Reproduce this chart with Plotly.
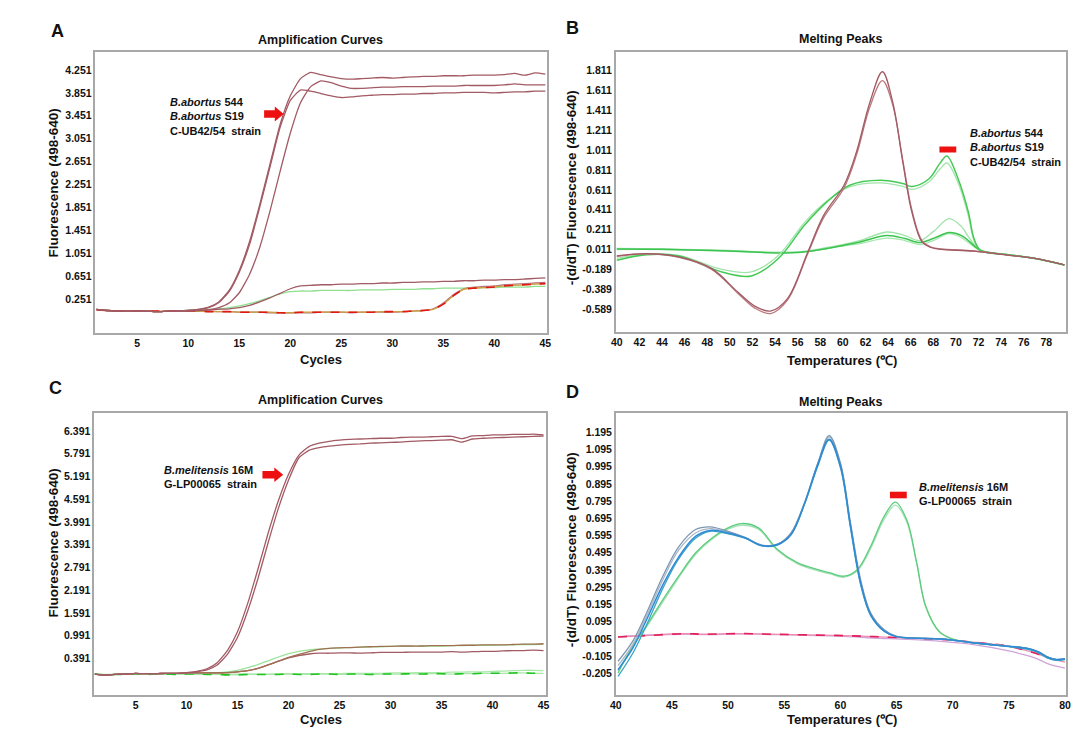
import plotly.graph_objects as go

# The page body has an 8 px margin, so the figure is 8 px smaller and all
# reference pixel positions are shifted by that offset.
W_REF, H_REF = 1082, 732
OFF = 8
W, H = W_REF - OFF, H_REF - OFF
FONT = "Liberation Sans, Arial, Helvetica, sans-serif"

# ---------------- data ----------------
CYCLES = list(range(1, 46))

# Panel A - amplification curves
A_POS_1 = [0.07,0.05,0.04,0.04,0.04,0.04,0.03,0.04,0.04,0.05,
           0.07,0.11,0.20,0.40,0.75,1.25,1.90,2.60,3.30,3.80,
           4.10,4.21,4.17,4.13,4.10,4.09,4.10,4.11,4.12,4.11,
           4.12,4.13,4.14,4.14,4.15,4.15,4.15,4.16,4.16,4.16,
           4.17,4.19,4.16,4.20,4.18]
A_POS_2 = [0.07,0.05,0.04,0.04,0.04,0.04,0.03,0.04,0.04,0.05,
           0.07,0.10,0.19,0.38,0.72,1.20,1.85,2.55,3.25,3.72,
           3.90,3.88,3.84,3.80,3.77,3.78,3.80,3.81,3.82,3.82,
           3.83,3.83,3.84,3.84,3.85,3.85,3.86,3.86,3.86,3.85,
           3.86,3.87,3.87,3.88,3.88]
A_POS_3 = [0.07,0.05,0.04,0.04,0.04,0.04,0.03,0.04,0.04,0.04,
           0.05,0.06,0.10,0.18,0.36,0.68,1.15,1.78,2.48,3.15,
           3.68,3.96,4.06,4.03,3.97,3.93,3.93,3.94,3.95,3.95,
           3.96,3.96,3.96,3.97,3.97,3.97,3.98,3.98,3.98,3.98,
           3.99,4.01,3.99,3.99,3.99]
A_LOW_BROWN = [0.07,0.05,0.04,0.04,0.04,0.04,0.03,0.04,0.04,0.05,
               0.05,0.06,0.07,0.08,0.10,0.14,0.20,0.27,0.35,0.43,
               0.48,0.49,0.50,0.50,0.51,0.51,0.52,0.52,0.53,0.53,
               0.54,0.54,0.55,0.55,0.56,0.56,0.57,0.57,0.58,0.58,
               0.59,0.59,0.60,0.61,0.62]
A_LOW_GREEN = [0.07,0.05,0.04,0.04,0.04,0.04,0.03,0.04,0.04,0.05,
               0.06,0.07,0.08,0.10,0.13,0.17,0.22,0.28,0.34,0.38,
               0.39,0.39,0.40,0.40,0.40,0.40,0.41,0.41,0.41,0.42,
               0.42,0.42,0.43,0.43,0.44,0.44,0.44,0.45,0.45,0.45,
               0.46,0.46,0.46,0.47,0.47]
A_LATE_1 = [0.07,0.05,0.04,0.04,0.04,0.04,0.03,0.04,0.04,0.04,
            0.04,0.04,0.03,0.03,0.02,0.02,0.02,0.01,0.01,0.01,
            0.01,0.01,0.02,0.02,0.02,0.01,0.02,0.02,0.02,0.02,
            0.03,0.04,0.05,0.08,0.18,0.33,0.43,0.46,0.47,0.48,
            0.50,0.51,0.52,0.53,0.54]
A_LATE_2 = [0.06,0.05,0.04,0.04,0.04,0.04,0.04,0.04,0.04,0.04,
            0.04,0.03,0.03,0.03,0.02,0.02,0.02,0.02,0.01,0.01,
            0.02,0.02,0.02,0.02,0.02,0.02,0.02,0.02,0.03,0.03,
            0.03,0.04,0.05,0.07,0.16,0.31,0.42,0.44,0.45,0.46,
            0.48,0.49,0.50,0.51,0.52]

# Panel C - amplification curves
C_POS_1 = [-0.02,-0.05,-0.03,-0.02,0.00,-0.01,-0.01,0.00,0.00,0.02,
           0.05,0.12,0.28,0.60,1.10,1.85,2.75,3.70,4.55,5.25,
           5.75,5.98,6.07,6.12,6.15,6.17,6.18,6.19,6.20,6.20,
           6.22,6.23,6.23,6.24,6.25,6.25,6.19,6.26,6.27,6.29,
           6.29,6.30,6.30,6.31,6.29]
C_POS_2 = [-0.02,-0.05,-0.03,-0.02,0.00,-0.01,-0.01,0.00,0.00,0.01,
           0.04,0.09,0.22,0.50,0.95,1.65,2.50,3.45,4.35,5.10,
           5.68,5.88,5.95,5.99,6.02,6.04,6.05,6.07,6.08,6.09,
           6.10,6.12,6.13,6.14,6.15,6.16,6.10,6.18,6.20,6.21,
           6.22,6.23,6.24,6.25,6.26]
C_LOW_GREEN = [-0.02,-0.04,-0.03,-0.02,-0.01,-0.01,-0.01,0.00,0.00,0.00,
               0.00,0.01,0.02,0.04,0.08,0.15,0.23,0.33,0.43,0.52,
               0.58,0.62,0.64,0.66,0.67,0.68,0.69,0.70,0.70,0.71,
               0.71,0.71,0.72,0.72,0.72,0.73,0.73,0.74,0.74,0.74,
               0.75,0.75,0.76,0.76,0.77]
C_LOW_BROWN_1 = [-0.02,-0.05,-0.03,-0.02,0.00,-0.01,-0.01,0.00,0.00,0.01,
                 0.01,0.01,0.01,0.02,0.04,0.07,0.13,0.22,0.32,0.42,
                 0.50,0.57,0.63,0.66,0.67,0.68,0.69,0.70,0.71,0.71,
                 0.72,0.72,0.72,0.73,0.73,0.73,0.74,0.74,0.75,0.75,
                 0.75,0.76,0.77,0.77,0.78]
C_LOW_BROWN_2 = [-0.02,-0.05,-0.03,-0.02,0.00,-0.01,-0.01,0.00,0.00,0.01,
                 0.01,0.01,0.01,0.02,0.04,0.07,0.13,0.22,0.32,0.41,
                 0.47,0.51,0.53,0.53,0.54,0.54,0.53,0.54,0.55,0.55,
                 0.55,0.56,0.56,0.56,0.56,0.57,0.56,0.57,0.58,0.58,
                 0.59,0.60,0.60,0.61,0.60]
C_NEG_1 = [-0.02,-0.04,-0.03,-0.03,-0.02,-0.03,-0.02,-0.02,-0.03,-0.02,
           -0.02,-0.03,-0.03,-0.04,-0.04,-0.03,-0.03,-0.03,-0.03,-0.02,
           -0.03,-0.03,-0.02,-0.02,-0.03,-0.02,-0.02,-0.03,-0.02,-0.02,
           -0.02,-0.01,-0.02,-0.01,-0.01,-0.02,-0.01,-0.01,0.00,0.00,
           0.00,0.01,0.01,0.00,0.00]
C_NEG_2 = [-0.02,-0.03,-0.03,-0.02,-0.02,-0.02,-0.02,-0.02,-0.02,-0.02,
           -0.02,-0.02,-0.02,-0.02,-0.02,-0.02,-0.02,-0.02,-0.01,-0.01,
           -0.01,-0.01,-0.01,-0.01,-0.01,0.00,0.00,0.00,0.00,0.01,
           0.01,0.01,0.02,0.02,0.02,0.03,0.03,0.04,0.04,0.05,
           0.06,0.07,0.08,0.08,0.07]

# Panel B - melting peaks
B_T_M = [40.0, 42.6, 45.5, 48.4, 50.7, 52.2, 53.6, 55.1, 56.9, 58.3, 60.1, 61.2,
         62.4, 63.5, 64.4, 65.3, 66.1, 67.0, 67.8, 68.7, 71.6, 74.6, 77.0, 79.6]
B_M1 = [-0.055, -0.032, -0.065, -0.183, -0.418, -0.56, -0.61, -0.485, -0.015, 0.354, 0.657, 0.992,
        1.496, 1.80, 1.50, 0.891, 0.388, 0.086, 0.03, 0.012, -0.007, -0.047, -0.08, -0.146]
B_M2 = [-0.06, -0.035, -0.07, -0.19, -0.43, -0.58, -0.635, -0.50, -0.03, 0.33, 0.63, 0.96,
        1.45, 1.71, 1.47, 0.91, 0.41, 0.10, 0.035, 0.015, -0.005, -0.047, -0.08, -0.146]
B_T_G1 = [40.0, 42.6, 45.5, 49.3, 51.9, 54.3, 56.6, 58.6, 60.6, 63.3, 65.3, 66.1,
          67.6, 68.6, 69.2, 70.2, 71.1, 71.6, 72.2, 74.6, 77.0, 79.6]
B_G1 = [-0.098, -0.042, -0.055, -0.216, -0.256, -0.08, 0.254, 0.49, 0.657, 0.707, 0.674, 0.645,
        0.72, 0.88, 0.952, 0.72, 0.388, 0.12, 0.0, -0.042, -0.08, -0.146]
B_G1B = [-0.08, -0.035, -0.05, -0.19, -0.216, -0.05, 0.28, 0.50, 0.64, 0.68, 0.645, 0.615,
         0.69, 0.82, 0.881, 0.68, 0.35, 0.10, 0.0, -0.042, -0.08, -0.146]
B_T_G2 = [40.0, 44.0, 48.4, 51.0, 54.3, 56.5, 58.6, 60.0, 61.5, 63.9, 65.5, 66.8,
          68.0, 69.4, 70.5, 71.1, 72.2, 74.6, 77.0, 79.6]
B_G2A = [0.02, 0.015, 0.005, -0.005, -0.02, -0.01, 0.03, 0.06, 0.10, 0.186, 0.15, 0.10,
         0.19, 0.32, 0.24, 0.14, 0.0, -0.042, -0.08, -0.146]
B_G2B = [0.015, 0.012, 0.0, -0.01, -0.025, -0.015, 0.02, 0.05, 0.085, 0.15, 0.12, 0.08,
         0.12, 0.18, 0.15, 0.10, 0.0, -0.042, -0.08, -0.146]
B_G2C = [0.01, 0.01, 0.0, -0.01, -0.02, -0.015, 0.02, 0.045, 0.07, 0.125, 0.10, 0.06,
         0.10, 0.17, 0.13, 0.08, 0.0, -0.042, -0.08, -0.146]

# Panel D - melting peaks
D_T_B = [40.2, 41.5, 42.7, 44.2, 45.6, 47.1, 48.4, 50.0, 51.5, 53.0, 54.4, 55.6, 56.8, 58.0,
         59.0, 60.0, 60.9, 61.8, 62.7, 63.9, 65.0, 69.1, 72.0, 75.0, 76.6, 77.6, 78.4, 79.2, 80.0]
D_B1 = [-0.135, -0.02, 0.14, 0.36, 0.53, 0.63, 0.646, 0.62, 0.585, 0.54, 0.545, 0.61, 0.785, 1.018,
        1.176, 1.018, 0.669, 0.339, 0.145, 0.048, 0.009, -0.006, -0.029, -0.048, -0.06, -0.08, -0.11, -0.125, -0.12]
D_B2 = [-0.184, -0.06, 0.10, 0.31, 0.47, 0.59, 0.625, 0.61, 0.582, 0.537, 0.543, 0.60, 0.78, 1.01,
        1.155, 1.00, 0.65, 0.32, 0.135, 0.04, 0.008, -0.006, -0.029, -0.048, -0.06, -0.08, -0.11, -0.125, -0.12]
D_B3 = [-0.223, -0.09, 0.07, 0.29, 0.46, 0.58, 0.62, 0.605, 0.58, 0.535, 0.54, 0.60, 0.775, 1.0,
        1.15, 0.99, 0.64, 0.31, 0.13, 0.04, 0.008, -0.006, -0.03, -0.05, -0.065, -0.085, -0.115, -0.13, -0.125]
D_B4 = [-0.16, -0.04, 0.12, 0.34, 0.51, 0.61, 0.635, 0.615, 0.583, 0.538, 0.544, 0.605, 0.78, 1.012,
        1.168, 1.01, 0.66, 0.33, 0.14, 0.045, 0.009, -0.006, -0.029, -0.048, -0.06, -0.08, -0.11, -0.125, -0.12]
D_T_G = [40.2, 41.5, 42.7, 44.2, 45.6, 47.1, 48.6, 50.0, 51.2, 52.7, 54.4, 56.2, 58.0, 59.1, 60.3, 61.5,
         62.7, 63.9, 64.9, 65.9, 66.8, 67.6, 68.8, 70.0, 72.0, 75.0, 76.6, 77.6, 78.4, 79.2, 80.0]
D_G1 = [-0.203, -0.048, 0.068, 0.223, 0.359, 0.494, 0.582, 0.64, 0.665, 0.64, 0.514, 0.436, 0.397, 0.378, 0.359, 0.397,
        0.533, 0.707, 0.789, 0.688, 0.436, 0.184, 0.038, -0.006, -0.029, -0.048, -0.06, -0.08, -0.11, -0.125, -0.12]
D_G2 = [-0.19, -0.05, 0.06, 0.21, 0.35, 0.485, 0.575, 0.632, 0.655, 0.632, 0.508, 0.43, 0.39, 0.372, 0.353, 0.39,
        0.52, 0.69, 0.772, 0.675, 0.43, 0.18, 0.036, -0.006, -0.029, -0.048, -0.06, -0.08, -0.11, -0.125, -0.12]
D_T_P = [40.2, 43, 46, 48, 51.1, 54, 57, 60.3, 63, 66, 69, 72, 75, 77.3, 78.5, 80]
D_P1 = [0.006, 0.015, 0.025, 0.022, 0.026, 0.022, 0.018, 0.014, 0.008, 0.0, -0.008, -0.025, -0.048, -0.087, -0.115, -0.14]
D_P2 = [0.008, 0.018, 0.022, 0.02, 0.024, 0.02, 0.015, 0.01, 0.0, -0.008, -0.02, -0.04, -0.075, -0.115, -0.15, -0.175]

# tick labels
A_YTICKS = [0.251, 0.651, 1.051, 1.451, 1.851, 2.251, 2.651, 3.051, 3.451, 3.851, 4.251]
C_YTICKS = [0.391, 0.991, 1.591, 2.191, 2.791, 3.391, 3.991, 4.591, 5.191, 5.791, 6.391]
B_YTICKS = [-0.589, -0.389, -0.189, 0.011, 0.211, 0.411, 0.611, 0.811, 1.011, 1.211, 1.411, 1.611, 1.811]
D_YTICKS = [-0.205, -0.105, -0.005, 0.095, 0.195, 0.295, 0.395, 0.495, 0.595, 0.695, 0.795, 0.895, 0.995, 1.095, 1.195]
D_YTEXT = ["-0.205", "-0.105", "0.005", "0.095", "0.195", "0.295", "0.395", "0.495", "0.595", "0.695",
           "0.795", "0.895", "0.995", "1.095", "1.195"]
CYCLE_TICKS = [5, 10, 15, 20, 25, 30, 35, 40, 45]
B_XTICKS = list(range(40, 80, 2))
D_XTICKS = [40, 45, 50, 55, 60, 65, 70, 75, 80]

# ---------------- figure ----------------
fig = go.Figure()

MAROON = "#a25a64"
MAROON2 = "#b8787f"


def add(xs, ys, color, ax, width=1.3, dash=None, smoothing=1.0):
    sfx = "" if ax == 1 else str(ax)
    fig.add_trace(go.Scatter(
        x=xs, y=ys, mode="lines",
        line=dict(color=color, width=width, dash=dash, shape="spline", smoothing=smoothing),
        xaxis="x" + sfx, yaxis="y" + sfx, hoverinfo="skip", showlegend=False))


# Panel A
add(CYCLES, A_LOW_GREEN, "#8fe08f", 1, smoothing=0.5)
add(CYCLES, A_LOW_BROWN, MAROON, 1, smoothing=0.5)
add(CYCLES, A_LATE_1, MAROON2, 1, smoothing=0.5)
add(CYCLES, A_LATE_2, "#c8a040", 1, smoothing=0.5)
add(CYCLES, A_LATE_2, "#e01818", 1, width=1.6, dash="dash", smoothing=0.5)
add(CYCLES, A_POS_1, MAROON, 1, smoothing=0.5)
add(CYCLES, A_POS_2, MAROON, 1, smoothing=0.5)
add(CYCLES, A_POS_3, MAROON, 1, smoothing=0.5)

# Panel B
add(B_T_G2, B_G2C, "#a6e6b0", 2)
add(B_T_G2, B_G2A, "#9fe3a8", 2)
add(B_T_G2, B_G2B, "#3cc450", 2, width=1.5)
add(B_T_G1, B_G1B, "#a3e4ad", 2)
add(B_T_G1, B_G1, "#45c955", 2, width=1.5)
add(B_T_M, B_M2, MAROON2, 2)
add(B_T_M, B_M1, MAROON, 2)

# Panel C
add(CYCLES, C_NEG_2, "#a8e8a8", 3, smoothing=0.5)
add(CYCLES, C_NEG_1, "#a8e8a8", 3, smoothing=0.5)
add(CYCLES, C_NEG_1, "#22c422", 3, width=1.6, dash="dash", smoothing=0.5)
add(CYCLES, C_LOW_GREEN, "#9be39b", 3, smoothing=0.5)
add(CYCLES, C_LOW_BROWN_2, MAROON, 3, smoothing=0.5)
add(CYCLES, C_LOW_BROWN_1, "#a07050", 3, smoothing=0.5)
add(CYCLES, C_POS_1, MAROON, 3, smoothing=0.5)
add(CYCLES, C_POS_2, MAROON, 3, smoothing=0.5)

# Panel D
add(D_T_P, D_P2, "#cfa4d8", 4)
add(D_T_P, D_P1, "#f08cb4", 4)
add(D_T_P, D_P1, "#e0205a", 4, width=1.6, dash="dash")
add(D_T_G, D_G2, "#a6e2bc", 4)
add(D_T_G, D_G1, "#5ccc7a", 4)
add(D_T_B, D_B4, "#a8b8c8", 4)
add(D_T_B, D_B1, "#7f96b0", 4)
add(D_T_B, D_B3, "#3aa6c4", 4)
add(D_T_B, D_B2, "#2f8ad6", 4, width=1.5)


# ---------------- layout ----------------
def fx(p):
    return (p - OFF) / W


def fy(p):
    return 1 - (p - OFF) / H


TICKFONT = dict(family=FONT, size=10.5, color="#111111", weight="bold")
common = dict(showgrid=False, zeroline=False, showline=True, mirror=True,
              linecolor="#a8a8a8", linewidth=1.5, ticks="", tickfont=TICKFONT,
              fixedrange=True)

PA = dict(x=(90.3, 546.6), y=(52, 333))
PB = dict(x=(616, 1071), y=(52, 332))
PC = dict(x=(89, 545.5), y=(413, 695))
PD = dict(x=(616, 1071), y=(413, 695))


def dom(p):
    return [fx(p["x"][0]), fx(p["x"][1])], [fy(p["y"][1]), fy(p["y"][0])]


da, ra = dom(PA)
db, rb = dom(PB)
dc, rc = dom(PC)
dd, rd = dom(PD)

fig.update_layout(
    width=W, height=H, margin=dict(l=0, r=0, t=0, b=0),
    paper_bgcolor="white", plot_bgcolor="white", showlegend=False,
    font=dict(family=FONT, color="#111111"),
    xaxis=dict(domain=da, range=[0.9, 45.17], tickvals=CYCLE_TICKS, anchor="y", **common),
    yaxis=dict(domain=ra, range=[-0.343, 4.565], tickvals=A_YTICKS,
               ticktext=[f"{v:.3f}" for v in A_YTICKS], anchor="x", **common),
    xaxis2=dict(domain=db, range=[39.91, 79.75], tickvals=B_XTICKS, anchor="y2", **common),
    yaxis2=dict(domain=rb, range=[-0.821, 1.999], tickvals=B_YTICKS,
                ticktext=[f"{v:.3f}" for v in B_YTICKS], anchor="x2", **common),
    xaxis3=dict(domain=dc, range=[0.94, 45.24], tickvals=CYCLE_TICKS, anchor="y3", **common),
    yaxis3=dict(domain=rc, range=[-0.572, 6.866], tickvals=C_YTICKS,
                ticktext=[f"{v:.3f}" for v in C_YTICKS], anchor="x3", **common),
    xaxis4=dict(domain=dd, range=[40.0, 80.1], tickvals=D_XTICKS, anchor="y4", **common),
    yaxis4=dict(domain=rd, range=[-0.331, 1.307], tickvals=D_YTICKS, ticktext=D_YTEXT,
                anchor="x4", **common),
)

ann = []


def text(x, y, s, size, angle=0, xanchor="center", align="center"):
    ann.append(dict(x=fx(x), y=fy(y), xref="paper", yref="paper", text=s, showarrow=False,
                    xanchor=xanchor, yanchor="middle", align=align, textangle=angle,
                    font=dict(family=FONT, size=size, color="#111111")))


# panel letters
text(52, 31, "<b>A</b>", 18)
text(572, 28, "<b>B</b>", 18)
text(50, 388, "<b>C</b>", 18)
text(572, 392, "<b>D</b>", 18)
# titles
text(318, 40, "<b>Amplification Curves</b>", 12.5)
text(843, 39, "<b>Melting Peaks</b>", 12.5)
text(318, 400, "<b>Amplification Curves</b>", 12.5)
text(843, 402, "<b>Melting Peaks</b>", 12.5)
# axis titles
text(318, 359, "<b>Cycles</b>", 13)
text(318, 719, "<b>Cycles</b>", 13)
text(845, 361, "<b>Temperatures (℃)</b>", 13)
text(845, 719, "<b>Temperatures (℃)</b>", 13)
text(48, 183, "<b>Fluorescence (498-640)</b>", 13.5, angle=-90)
text(47, 543, "<b>Fluorescence (498-640)</b>", 13.5, angle=-90)
text(571, 188, "<b>-(d/dT) Fluorescence (498-640)</b>", 13.5, angle=-90)
text(571, 550, "<b>-(d/dT) Fluorescence (498-640)</b>", 13.5, angle=-90)
# strain labels
ABORTUS = "<b><i>B.abortus</i> 544</b><br><b><i>B.abortus</i> S19</b><br><b>C-UB42/54  strain</b>"
MELI = "<b><i>B.melitensis</i> 16M</b><br><b>G-LP00065  strain</b>"
text(164, 116.5, ABORTUS, 11, xanchor="left", align="left")
text(972, 147.5, ABORTUS, 11, xanchor="left", align="left")
text(158, 476.5, MELI, 11, xanchor="left", align="left")
text(920, 494, MELI, 11, xanchor="left", align="left")

fig.update_layout(annotations=ann)


def arrow_path(x0, xh, xt, cy, sh, hh):
    pts = [(x0, cy - sh), (xh, cy - sh), (xh, cy - hh), (xt, cy), (xh, cy + hh),
           (xh, cy + sh), (x0, cy + sh)]
    return "M " + " L ".join(f"{fx(a):.5f},{fy(b):.5f}" for a, b in pts) + " Z"


shapes = [
    dict(type="path", xref="paper", yref="paper", path=arrow_path(260.7, 271.5, 280.5, 114, 3.8, 7.5),
         fillcolor="#ee1111", line=dict(width=0)),
    dict(type="path", xref="paper", yref="paper", path=arrow_path(259, 271, 280, 474.7, 3.8, 7.2),
         fillcolor="#ee1111", line=dict(width=0)),
    dict(type="rect", xref="paper", yref="paper", x0=fx(943), x1=fx(960), y0=fy(152.5), y1=fy(146.5),
         fillcolor="#ee1111", line=dict(width=0)),
    dict(type="rect", xref="paper", yref="paper", x0=fx(893), x1=fx(910), y0=fy(498.3), y1=fy(491.7),
         fillcolor="#ee1111", line=dict(width=0)),
]
fig.update_layout(shapes=shapes)

fig.write_html("out.html")
